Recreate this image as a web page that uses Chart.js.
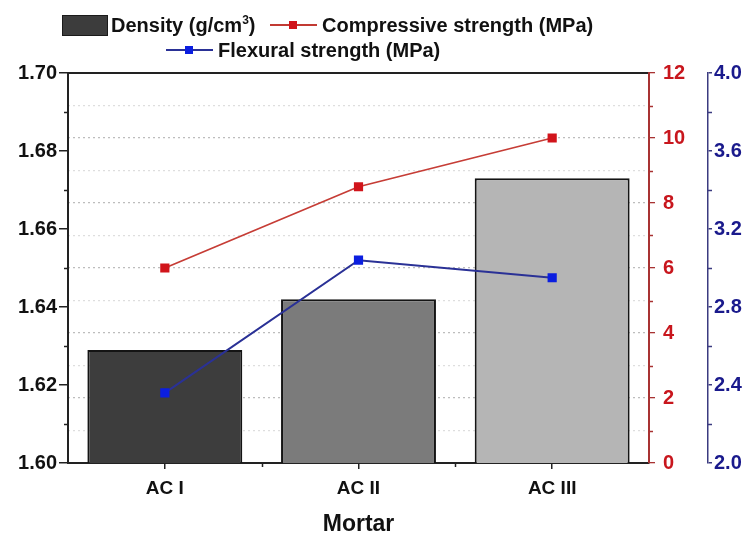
<!DOCTYPE html>
<html><head><meta charset="utf-8">
<script src="https://cdn.jsdelivr.net/npm/chart.js@4.4.1/dist/chart.umd.min.js"></script>
<style>
html,body{margin:0;padding:0;background:#fff;}
#wrap{position:relative;width:753px;height:536px;font-family:'Liberation Sans',Arial,sans-serif;font-weight:bold;}
#c{position:absolute;left:0;top:0;}
.lg{position:absolute;font-size:20px;line-height:20px;color:#111;white-space:nowrap;}
.lg sup{font-size:12px;line-height:0;vertical-align:8px;}
.box{position:absolute;background:#3c3c3c;border:1px solid #1a1a1a;}
.ln{position:absolute;height:2px;}
.sq{position:absolute;width:8px;height:8px;}
</style></head>
<body>
<div id="wrap">
<canvas id="c" width="753" height="536"></canvas>
<div class="box" style="left:62px;top:15px;width:44px;height:19px;"></div>
<div class="lg" style="left:111px;top:15px;">Density (g/cm<sup>3</sup>)</div>
<div class="ln" style="left:270px;top:24px;width:47px;background:#c23a33;"></div>
<div class="sq" style="left:289px;top:21px;background:#d1141b;"></div>
<div class="lg" style="left:322px;top:15px;">Compressive strength (MPa)</div>
<div class="ln" style="left:166px;top:49px;width:47px;background:#2a3196;"></div>
<div class="sq" style="left:185px;top:46px;background:#0b1ee0;"></div>
<div class="lg" style="left:218px;top:40px;">Flexural strength (MPa)</div>
</div>
<script>
const categories = ['AC I', 'AC II', 'AC III'];
const density = [1.629, 1.642, 1.673];
const compressive = [6.0, 8.5, 10.0];
const flexural = [2.36, 3.04, 2.95];
const densityTicks = [1.60, 1.62, 1.64, 1.66, 1.68, 1.70];
const compressiveTicks = [0, 2, 4, 6, 8, 10, 12];
const flexuralTicks = [2.0, 2.4, 2.8, 3.2, 3.6, 4.0];
const barColors = ['#3d3d3d', '#7b7b7b', '#b5b5b5'];

Chart.defaults.font.family = "'Liberation Sans', Arial, sans-serif";
Chart.defaults.font.weight = 'bold';
Chart.defaults.font.size = 20;
Chart.defaults.color = '#111';

const minorTicks = {
  id: 'minorTicks',
  afterDraw(chart) {
    const ctx = chart.ctx;
    const s = chart.scales;
    ctx.save();
    ctx.lineWidth = 1.5;
    function vert(scale, vals, x0, x1, color) {
      ctx.strokeStyle = color;
      vals.forEach(v => {
        const y = Math.round(scale.getPixelForValue(v)) + 0.5;
        ctx.beginPath(); ctx.moveTo(x0, y); ctx.lineTo(x1, y); ctx.stroke();
      });
    }
    vert(s.y, [1.61, 1.63, 1.65, 1.67, 1.69], s.y.right, s.y.right - 4, '#222');
    vert(s.y1, [1, 3, 5, 7, 9, 11], s.y1.left, s.y1.left + 4, '#a83232');
    vert(s.y2, [2.2, 2.6, 3.0, 3.4, 3.8], s.y2.left, s.y2.left + 4, '#3b3b80');
    ctx.strokeStyle = '#222';
    [0.5, 1.5].forEach(v => {
      const x = Math.round(s.x.getPixelForValue(v)) + 0.5;
      ctx.beginPath(); ctx.moveTo(x, s.x.top); ctx.lineTo(x, s.x.top + 4); ctx.stroke();
    });
    ctx.restore();
  }
};

new Chart(document.getElementById('c'), {
  data: {
    labels: categories,
    datasets: [
      {
        type: 'line', label: 'Compressive strength (MPa)', data: compressive, yAxisID: 'y1', order: 1,
        borderColor: '#c63d36', borderWidth: 1.8, pointStyle: 'rect', pointRadius: 6.5,
        pointBackgroundColor: '#d1141b', pointBorderColor: '#d1141b', pointBorderWidth: 0
      },
      {
        type: 'line', label: 'Flexural strength (MPa)', data: flexural, yAxisID: 'y2', order: 2,
        borderColor: '#2a3196', borderWidth: 2, pointStyle: 'rect', pointRadius: 6.5,
        pointBackgroundColor: '#0b1ee0', pointBorderColor: '#0b1ee0', pointBorderWidth: 0
      },
      {
        type: 'bar', label: 'Density (g/cm³)', data: density, yAxisID: 'y', order: 3,
        backgroundColor: barColors, borderColor: '#141414', borderWidth: 2, borderSkipped: false,
        barPercentage: 0.8, categoryPercentage: 1.0
      }
    ]
  },
  options: {
    responsive: false,
    animation: false,
    devicePixelRatio: 1,
    layout: { padding: { top: 73, left: 0, right: 0, bottom: 0 } },
    plugins: { legend: { display: false }, tooltip: { enabled: false } },
    scales: {
      x: {
        type: 'category', position: 'bottom',
        grid: { drawOnChartArea: false, offset: false, tickLength: 6, color: '#222', lineWidth: 1.5 },
        border: { color: '#222', width: 2 },
        ticks: { font: { size: 19, weight: 'bold' }, padding: 8, color: '#111' },
        title: { display: true, text: 'Mortar', font: { size: 23, weight: 'bold', lineHeight: 1.0 }, padding: { top: 0, bottom: 0 }, color: '#111' },
        afterFit: s => { s.height = 73; }
      },
      x2: {
        type: 'category', position: 'top',
        grid: { display: false }, ticks: { display: false },
        border: { display: true, color: '#222', width: 2 },
        afterFit: s => { s.height = 0; }
      },
      y: {
        type: 'linear', position: 'left', min: 1.6, max: 1.7,
        afterBuildTicks: s => { s.ticks = densityTicks.map(v => ({ value: v })); },
        ticks: { callback: v => v.toFixed(2), padding: 2, color: '#111', font: { size: 20, weight: 'bold' } },
        grid: { drawOnChartArea: false, tickLength: 9, color: '#222', lineWidth: 1.5 },
        border: { color: '#222', width: 2 },
        afterFit: s => { s.width = 68; }
      },
      y1: {
        type: 'linear', position: 'right', min: 0, max: 12, weight: 0,
        ticks: {
          stepSize: 1, autoSkip: false, padding: 8, color: '#c8161d', font: { size: 20, weight: 'bold' },
          callback: v => compressiveTicks.includes(v) ? String(v) : ''
        },
        grid: {
          drawOnChartArea: true, tickLength: 6, lineWidth: 1.3,
          color: c => (c.tick.value === 0 || c.tick.value === 12) ? 'rgba(0,0,0,0)' : (c.tick.value % 2 === 0 ? '#bdbdbd' : '#dedede'),
          tickColor: c => compressiveTicks.includes(c.tick.value) ? '#a83232' : 'rgba(0,0,0,0)'
        },
        border: { color: '#a83232', width: 2, dash: [2, 3] },
        afterFit: s => { s.width = 59; }
      },
      y2: {
        type: 'linear', position: 'right', min: 2, max: 4, weight: 1,
        afterBuildTicks: s => { s.ticks = flexuralTicks.map(v => ({ value: v })); },
        ticks: { callback: v => v.toFixed(1), padding: 2, color: '#1a1a8c', font: { size: 20, weight: 'bold' } },
        grid: { drawOnChartArea: false, tickLength: 4, color: '#3b3b80', lineWidth: 1.5 },
        border: { color: '#3b3b80', width: 1.5 },
        afterFit: s => { s.width = 45; }
      }
    }
  },
  plugins: [minorTicks]
});
</script>
</body></html>
